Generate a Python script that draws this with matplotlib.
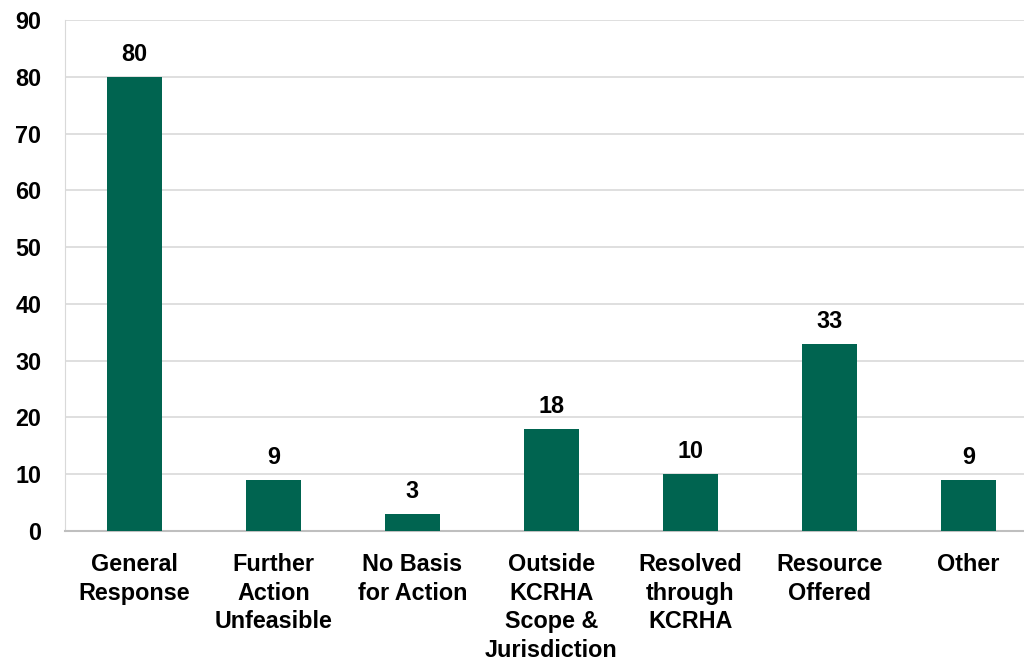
import matplotlib
matplotlib.use("Agg")
import matplotlib.pyplot as plt

categories = ["General\nResponse", "Further\nAction\nUnfeasible", "No Basis\nfor Action",
              "Outside\nKCRHA\nScope &\nJurisdiction", "Resolved\nthrough\nKCRHA",
              "Resource\nOffered", "Other"]
counts = [80, 9, 3, 18, 10, 33, 9]
y_ticks = list(range(0, 91, 10))

GREEN = "#006450"
FS = 16.8

plt.rcParams["font.family"] = ["Liberation Sans", "DejaVu Sans"]
plt.rcParams["font.weight"] = "bold"

fig = plt.figure(figsize=(10.24, 6.61), dpi=100)
ax = fig.add_axes([65 / 1024, 130 / 661, 973 / 1024, 511 / 661])

x = list(range(len(categories)))
bars = ax.bar(x, counts, width=0.4, color=GREEN, zorder=3)
for b, v in zip(bars, counts):
    ax.annotate(str(v), (b.get_x() + b.get_width() / 2, v), textcoords="offset points",
                xytext=(0, 8), ha="center", va="bottom", fontsize=FS, fontweight="bold")

ax.set_xlim(-0.5, len(categories) - 0.5)
ax.set_ylim(0, 90)
ax.set_yticks(y_ticks)
ax.set_xticks(x)
ax.set_xticklabels(categories, fontsize=FS, fontweight="bold", linespacing=1.31)
ax.tick_params(axis="y", length=0, pad=17, labelsize=FS)
ax.tick_params(axis="x", length=0, pad=16)
ax.grid(axis="y", color="#d9d9d9", linewidth=1.2, zorder=0)
for s in ("top", "right"):
    ax.spines[s].set_visible(False)
ax.spines["left"].set_color("#d9d9d9")
ax.spines["bottom"].set_color("#bfbfbf")
ax.spines["bottom"].set_linewidth(1.5)

fig.savefig("out.png", dpi=100)
